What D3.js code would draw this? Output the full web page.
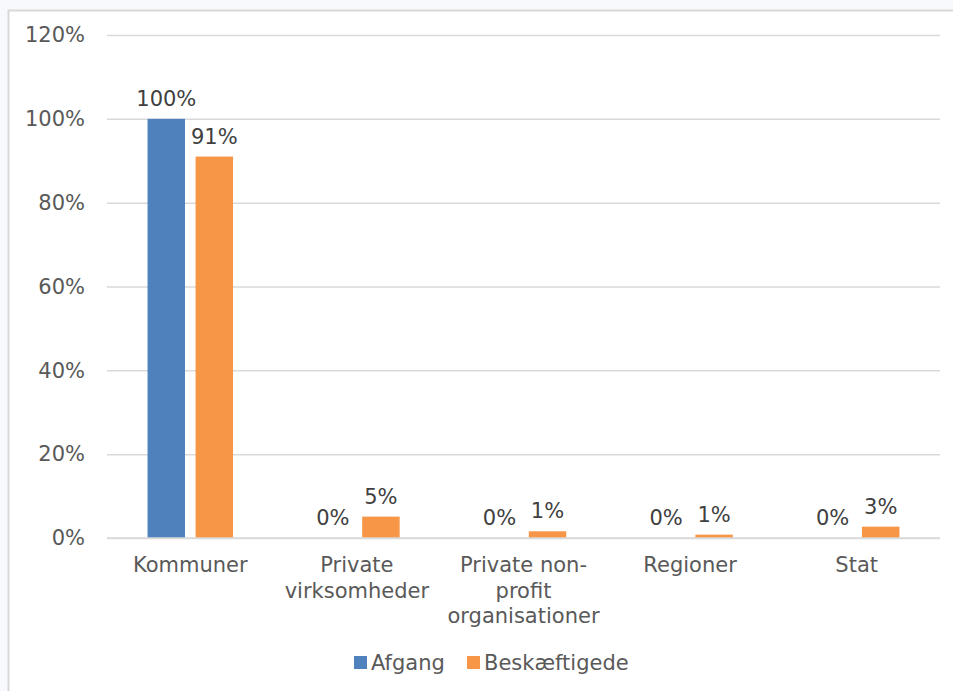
<!DOCTYPE html>
<html>
<head>
<meta charset="utf-8">
<script src="https://cdn.jsdelivr.net/npm/d3@7"></script>
<style>
  html, body { margin: 0; padding: 0; background: #f8f9fd; }
  svg { display: block; }
</style>
</head>
<body>
<svg id="chart" width="953" height="691"></svg>
<script>
const categories = [["Kommuner"], ["Private", "virksomheder"], ["Private non-", "profit", "organisationer"], ["Regioner"], ["Stat"]];
const seriesNames = ["Afgang", "Beskæftigede"];
const afgang = [100, 0, 0, 0, 0];
const beskaeftigede = [91, 5.1, 1.6, 0.8, 2.7];
const afgangLabels = ["100%", "0%", "0%", "0%", "0%"];
const beskLabels = ["91%", "5%", "1%", "1%", "3%"];
const yTicks = [0, 20, 40, 60, 80, 100, 120];
const colors = ["#4f81bd", "#f79646"];

const svg = d3.select("#chart");
const font = "'DejaVu Sans', Verdana, sans-serif";
const fs = "21px";

// chart area background + border
svg.append("rect").attr("x", 8.5).attr("y", 10.5).attr("width", 960).attr("height", 700)
  .attr("fill", "#ffffff").attr("stroke", "#d9d9d9").attr("stroke-width", 2);

const plot = { left: 107, right: 940, top: 35, bottom: 538 };
const y = d3.scaleLinear().domain([0, 120]).range([plot.bottom, plot.top]);
const x0 = d3.scaleBand().domain(d3.range(categories.length)).range([plot.left, plot.right]).paddingInner(0).paddingOuter(0);
const groupW = 85.5;
const x1 = d3.scaleBand().domain([0, 1]).range([0, groupW]).paddingInner(0.22);
const groupOffset = (x0.bandwidth() - groupW) / 2;

// gridlines
const yAxis = d3.axisLeft(y).tickValues(yTicks).tickFormat(d => d + "%").tickSize(-(plot.right - plot.left)).tickPadding(22);
const gAxis = svg.append("g").attr("transform", `translate(${plot.left},0)`).call(yAxis);
gAxis.select(".domain").remove();
gAxis.selectAll(".tick line").attr("stroke", "#d9d9d9").attr("stroke-width", 1.5);
gAxis.selectAll(".tick text").attr("fill", "#595959").style("font-family", font).style("font-size", fs);

const data = categories.map((c, i) => ({ i, vals: [afgang[i], beskaeftigede[i]], labels: [afgangLabels[i], beskLabels[i]] }));

const groups = svg.append("g").selectAll("g").data(data).join("g")
  .attr("transform", d => `translate(${x0(d.i) + groupOffset},0)`);

groups.selectAll("rect").data(d => d.vals.map((v, k) => ({ v, k }))).join("rect")
  .attr("x", d => x1(d.k)).attr("width", x1.bandwidth())
  .attr("y", d => y(d.v)).attr("height", d => y(0) - y(d.v))
  .attr("fill", d => colors[d.k]);

groups.selectAll("text.val").data(d => d.vals.map((v, k) => ({ v, k, label: d.labels[k] }))).join("text")
  .attr("class", "val")
  .attr("x", d => x1(d.k) + x1.bandwidth() / 2)
  .attr("y", d => y(d.v) - 13)
  .attr("text-anchor", "middle")
  .attr("fill", "#404040")
  .style("font-family", font).style("font-size", fs)
  .text(d => d.label);

// baseline
svg.append("line").attr("x1", plot.left).attr("x2", plot.right).attr("y1", y(0)).attr("y2", y(0))
  .attr("stroke", "#d9d9d9").attr("stroke-width", 1.5);

// category labels
const xl = svg.append("g").selectAll("text").data(categories).join("text")
  .attr("x", (d, i) => x0(i) + x0.bandwidth() / 2)
  .attr("y", 572)
  .attr("text-anchor", "middle")
  .attr("fill", "#595959")
  .style("font-family", font).style("font-size", fs);
xl.selectAll("tspan").data(d => d).join("tspan")
  .attr("x", function() { return this.parentNode.getAttribute("x"); })
  .attr("dy", (d, j) => j === 0 ? 0 : 25.5)
  .text(d => d);

// legend
const legend = svg.append("g");
const legendItems = [{ name: seriesNames[0], x: 354 }, { name: seriesNames[1], x: 467 }];
legendItems.forEach((it, k) => {
  legend.append("rect").attr("x", it.x).attr("y", 656).attr("width", 13).attr("height", 13).attr("fill", colors[k]);
  legend.append("text").attr("x", it.x + 17).attr("y", 670).attr("fill", "#595959")
    .style("font-family", font).style("font-size", fs).text(it.name);
});
</script>
</body>
</html>
